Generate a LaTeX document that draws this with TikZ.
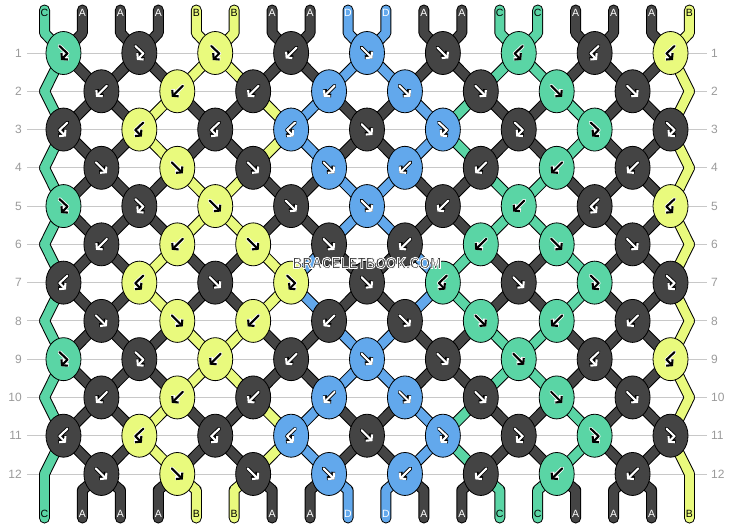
\documentclass[tikz,border=0pt]{standalone}
\usepackage{fontspec}
\setmainfont{Liberation Sans}
\usetikzlibrary{shapes.geometric,arrows.meta}

\definecolor{colA}{HTML}{444444}
\definecolor{colB}{HTML}{E9FA7D}
\definecolor{colC}{HTML}{5AD5A5}
\definecolor{colD}{HTML}{62A8EC}
\definecolor{rowgray}{HTML}{C8C8C8}
\definecolor{numgray}{HTML}{9A9A9A}
\definecolor{wmgray}{HTML}{3E3E3E}

\colorlet{arrA}{white}
\colorlet{arrD}{white}
\colorlet{arrB}{black}
\colorlet{arrC}{black}
\colorlet{olA}{black}
\colorlet{olD}{black}
\colorlet{olB}{white}
\colorlet{olC}{white}

% string colours after a row
\def\stateA{C,A,A,A,B,B,A,A,D,D,A,A,C,C,A,A,A,B}
\def\stateB{C,A,A,B,A,A,B,D,A,A,D,C,A,A,C,A,A,B}

% outlined text (fill + white stroke)
\newcommand\haloed[1]{\special{pdf:literal direct 2 Tr 0.9 w 1 1 1 RG}#1\special{pdf:literal direct 0 Tr}}

\newcommand\knotarrow[1]{%
	\draw[ao, line width=3.8pt, tip] #1;
	\draw[ar, line width=2.1pt, tip] #1;
}

\newcommand\drawstrings[1]{%
	\foreach [count=\p] \c in \stateA {
		\draw[draw=col\c, #1] (t\p) -- (tb\p) -- (n1-\p);
		\draw[draw=col\c, #1] (n12-\p) -- (bb\p) -- (b\p);
	}
	\foreach \r in {1,4,5,8,9} {
		\pgfmathtruncatemacro\rn{\r+1}
		\foreach [count=\p] \c in \stateA { \draw[draw=col\c, #1] (n\r-\p) -- (n\rn-\p); }
	}
	\foreach \r in {2,3,6,7,10,11} {
		\pgfmathtruncatemacro\rn{\r+1}
		\foreach [count=\p] \c in \stateB { \draw[draw=col\c, #1] (n\r-\p) -- (n\rn-\p); }
	}
}

\tikzset{
	knot/.style={ellipse, draw=black, line width=0.8pt, fill=col#1,
		minimum width=35pt, minimum height=43pt, inner sep=0pt},
	tip/.style={-{Straight Barb[length=3.8pt,width=9pt]}},
	rowline/.style={draw=rowgray, line width=0.9pt, line cap=butt},
	rownum/.style={text=numgray, font=\fontsize{12}{12}\selectfont, inner sep=2pt},
	endlabel/.style={font=\fontsize{10.5}{11}\selectfont, inner sep=0pt},
	pics/fw/.style={code={\knotarrow{(-5.5,-5.5) -- (5.5,5.5)}}},
	pics/bw/.style={code={\knotarrow{(5.5,-5.5) -- (-5.5,5.5)}}},
	pics/fb/.style={code={\knotarrow{(-4,-7) -- (4,0.5) -- (-2.5,7)}}},
	pics/bf/.style={code={\knotarrow{(4,-7) -- (-4,0.5) -- (2.5,7)}}},
}

\begin{document}
\begin{tikzpicture}[x=1pt, y=-1pt, line cap=round, line join=round]

% parameters %{{{2

	\def\xzero{44.5}
	\def\dx{37.94}
	\def\yzero{53}
	\def\dy{38.27}

	\useasboundingbox (0,0) rectangle (734,528);

% coordinates %{{{2

	\foreach \r in {1,...,12} {
		\foreach \p in {1,...,18} {
			\pgfmathsetmacro\px{mod(\r,2)==1 ? \xzero+\dx*(2*floor((\p+1)/2)-1.5)
				: ((\p==1 || \p==18) ? \xzero+\dx*(\p-1) : \xzero+\dx*(2*floor(\p/2)-0.5))}
			\pgfmathsetmacro\py{\yzero+\dy*(\r-1)}
			\coordinate (n\r-\p) at (\px,\py);
		}
	}
	\foreach \p in {1,...,18} {
		\pgfmathsetmacro\px{\xzero+\dx*(\p-1)}
		\coordinate (t\p) at (\px,10);
		\coordinate (tb\p) at (\px,33);
		\coordinate (bb\p) at (\px,490);
		\coordinate (b\p) at (\px,518);
	}

% row lines and numbers %{{{2

	\foreach \r in {1,...,12} {
		\pgfmathsetmacro\py{\yzero+\dy*(\r-1)}
		\node[rownum, anchor=east] (ln\r) at (24,\py) {\r};
		\node[rownum, anchor=west] (rn\r) at (709,\py) {\r};
		\draw[rowline, shorten <=3pt, shorten >=2pt] (ln\r.east) -- (rn\r.west);
	}

% strings %{{{2

	\drawstrings{draw=black, line width=11pt}
	\drawstrings{line width=9pt}

% knots %{{{2

	\foreach \r/\kl in {
		1/{C/fb,A/fb,B/fb,A/bw,D/fw,A/fw,C/bf,A/bf,B/bf},
		2/{A/bw,B/bw,A/bw,D/bw,D/fw,A/fw,C/fw,A/fw},
		3/{A/bf,B/bf,A/bf,D/bf,A/fw,D/fb,A/fb,C/fb,A/fb},
		4/{A/fw,B/fw,A/fw,D/fw,D/bw,A/bw,C/bw,A/bw},
		5/{C/fb,A/fb,B/fw,A/fw,D/fw,A/bw,C/bw,A/bf,B/bf},
		6/{A/bw,B/bw,B/fw,A/fw,A/bw,C/bw,C/fw,A/fw},
		7/{A/bf,B/bf,A/fw,B/fb,A/fw,C/bf,A/fw,C/fb,A/fb},
		8/{A/fw,B/fw,B/bw,A/bw,A/fw,C/fw,C/bw,A/bw},
		9/{C/fb,A/fb,B/bw,A/bw,D/fw,A/fw,C/fw,A/bf,B/bf},
		10/{A/bw,B/bw,A/bw,D/bw,D/fw,A/fw,C/fw,A/fw},
		11/{A/bf,B/bf,A/bf,D/bf,A/fw,D/fb,A/fb,C/fb,A/fb},
		12/{A/fw,B/fw,A/fw,D/fw,D/bw,A/bw,C/bw,A/bw}} {
		\foreach [count=\i] \c/\t in \kl {
			\pgfmathsetmacro\kx{\xzero+\dx*(2*\i-1.5+1-mod(\r,2))}
			\pgfmathsetmacro\ky{\yzero+\dy*(\r-1)}
			\node[knot=\c] (k\r-\i) at (\kx,\ky) {};
			\pic[ar/.style={draw=arr\c}, ao/.style={draw=ol\c}] at (k\r-\i) {\t};
		}
	}

% string end labels %{{{2

	\foreach [count=\p] \c in \stateA {
		\pgfmathsetmacro\px{\xzero+\dx*(\p-1)}
		\node[endlabel, text=arr\c] (lt\p) at (\px,13) {\c};
		\node[endlabel, text=arr\c] (lb\p) at (\px,514) {\c};
	}

% watermark %{{{2

	\node[text=wmgray, font=\fontsize{16}{16}\selectfont\bfseries] (wm) at (367,263)
		{\scalebox{0.84}[1]{\haloed{BRACELETBOOK.COM}}};

% closing %{{{2

\end{tikzpicture}
\end{document}
